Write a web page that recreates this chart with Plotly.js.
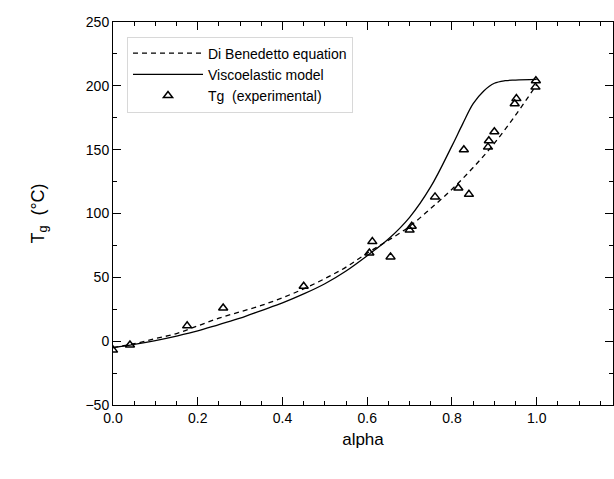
<!DOCTYPE html>
<html><head><meta charset="utf-8">
<script src="https://cdn.plot.ly/plotly-3.0.1.min.js"></script>
<style>html,body{margin:0;padding:0;background:#fff}</style>
</head><body>
<div id="chart" style="width:614px;height:479px"></div>
<script>
// Di Benedetto equation (dashed)
const dbAlpha = [0, 0.05, 0.1, 0.15, 0.2, 0.25, 0.3, 0.35, 0.4, 0.45, 0.5, 0.55, 0.6, 0.65, 0.7, 0.75, 0.8, 0.85, 0.9, 0.95, 1.0];
const dbTg    = [-5, -2, 2, 6, 12, 18, 23, 28, 34, 41, 49, 58, 69, 79, 90, 104, 119, 136, 155, 177, 201];
// Viscoelastic model (solid)
const veAlpha = [0, 0.05, 0.1, 0.15, 0.2, 0.25, 0.3, 0.35, 0.4, 0.45, 0.5, 0.55, 0.6, 0.65, 0.7, 0.75, 0.8, 0.825, 0.85, 0.875, 0.9, 0.925, 0.95, 1.0];
const veTg    = [-5, -2.5, 0.5, 4, 8, 13, 18, 24, 30, 37, 45, 55, 67, 80, 97, 121, 153, 170, 186, 196, 202, 204, 204.5, 205];
// Experimental Tg
const expAlpha = [0.0, 0.04, 0.175, 0.26, 0.45, 0.605, 0.612, 0.655, 0.70, 0.705, 0.76, 0.815, 0.828, 0.84, 0.885, 0.887, 0.90, 0.948, 0.952, 0.997, 0.998];
const expTg    = [-7, -3, 12, 26, 43, 69, 78, 66, 87, 90, 113, 120, 150, 115, 152, 157, 164, 186, 190, 199, 204];

const traces = [
  {x: dbAlpha, y: dbTg, mode: 'lines', name: 'Di Benedetto equation',
   line: {color: '#000', width: 1.3, dash: '5px,4px', shape: 'spline'}},
  {x: veAlpha, y: veTg, mode: 'lines', name: 'Viscoelastic model',
   line: {color: '#000', width: 1.3, shape: 'spline'}},
  {x: expAlpha, y: expTg, mode: 'markers', name: 'Tg  (experimental)',
   marker: {symbol: 'triangle-up-open', size: 8, color: '#000', line: {width: 1.5, color: '#000'}}}
];

const axisCommon = {
  showline: true, linecolor: '#000', linewidth: 1, mirror: 'ticks',
  ticks: 'inside', ticklen: 8, tickwidth: 1, tickcolor: '#000',
  showgrid: false, zeroline: false,
  tickfont: {family: 'Liberation Sans, Arial, sans-serif', size: 14, color: '#000'}
};

const layout = {
  width: 614, height: 479,
  margin: {l: 113, r: 1, t: 22, b: 74},
  paper_bgcolor: '#fff', plot_bgcolor: '#fff',
  showlegend: true,
  font: {family: 'Liberation Sans, Arial, sans-serif', color: '#000'},
  xaxis: Object.assign({}, axisCommon, {
    range: [0, 1.18], dtick: 0.2, tick0: 0, tickformat: '.1f',
    minor: {dtick: 0.05, ticks: 'inside', ticklen: 4, tickcolor: '#000'},
    title: {text: 'alpha', font: {size: 17, color: '#000'}, standoff: 8}
  }),
  yaxis: Object.assign({}, axisCommon, {
    range: [-50, 250], dtick: 50, tick0: 0,
    minor: {dtick: 25, ticks: 'inside', ticklen: 4, tickcolor: '#000'},
    title: {text: 'T<sub>g</sub>  (°C)', font: {size: 18, color: '#000'}, standoff: 36}
  }),
  legend: {
    x: 0.028, y: 0.962, xanchor: 'left', yanchor: 'top',
    bgcolor: 'rgba(255,255,255,0)', bordercolor: '#d8d8d8', borderwidth: 1,
    font: {size: 14, color: '#000'}, itemwidth: 70, tracegroupgap: 0
  }
};

Plotly.newPlot('chart', traces, layout, {displayModeBar: false, staticPlot: true});
</script>
</body></html>
